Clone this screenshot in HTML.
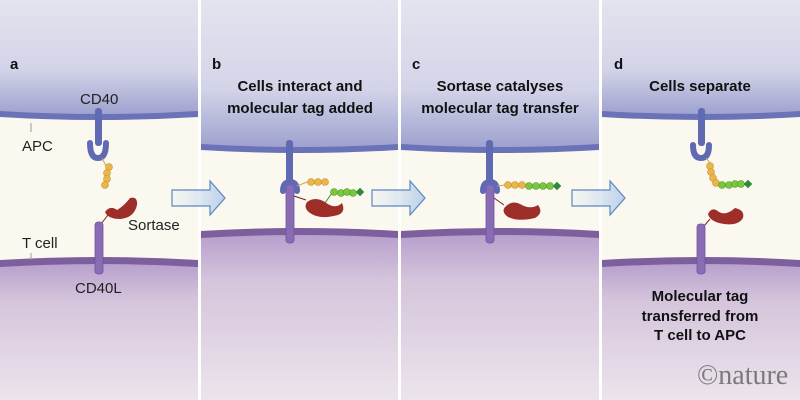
<!DOCTYPE html>
<html><head><meta charset="utf-8"><style>
html,body{margin:0;padding:0;background:#fff;}
svg{display:block;}
text{font-family:"Liberation Sans",sans-serif;}
text.ser{font-family:"Liberation Serif",serif;}
</style></head><body>
<svg width="800" height="400" viewBox="0 0 800 400" xmlns="http://www.w3.org/2000/svg">
<defs>
<linearGradient id="topA" x1="0" y1="0" x2="0" y2="1">
<stop offset="0" stop-color="#e4e4ef"/><stop offset="0.6" stop-color="#d3d4e8"/><stop offset="1" stop-color="#9ea1cf"/></linearGradient>
<linearGradient id="botA" x1="0" y1="0" x2="0" y2="1">
<stop offset="0" stop-color="#b49ccb"/><stop offset="0.3" stop-color="#d5c5dc"/><stop offset="1" stop-color="#ece4ec"/></linearGradient>
<linearGradient id="arr" x1="0" y1="0" x2="1" y2="0">
<stop offset="0" stop-color="#dbe6f2" stop-opacity="0.2"/><stop offset="1" stop-color="#b9d0ea"/></linearGradient>
</defs>
<rect width="800" height="400" fill="#fff"/>

<g>
<rect x="0" y="0" width="198" height="400" fill="#fbf9ef"/>
<path d="M0 0H198V112Q99 118 0 112Z" fill="url(#topA)"/>
<path d="M0 111Q99 117 198 111V117Q99 123 0 117Z" fill="#6a72b8"/>
<path d="M0 262Q99 256 198 262V400H0Z" fill="url(#botA)"/>
<path d="M0 260Q99 254 198 260V267Q99 261 0 267Z" fill="#7c5f9c"/>
<rect x="602" y="0" width="198" height="400" fill="#fbf9ef"/>
<path d="M602 0H800V112Q701 118 602 112Z" fill="url(#topA)"/>
<path d="M602 111Q701 117 800 111V117Q701 123 602 117Z" fill="#6a72b8"/>
<path d="M602 262Q701 256 800 262V400H602Z" fill="url(#botA)"/>
<path d="M602 260Q701 254 800 260V267Q701 261 602 267Z" fill="#7c5f9c"/>
</g>
<g>
<rect x="201" y="0" width="197" height="400" fill="#fbf9ef"/>
<path d="M201 0H398V145Q300 151 201 145Z" fill="url(#topA)"/>
<path d="M201 144Q300 150 398 144V150Q300 156 201 150Z" fill="#6a72b8"/>
<path d="M201 233Q300 227 398 233V400H201Z" fill="url(#botA)"/>
<path d="M201 231Q300 225 398 231V238Q300 232 201 238Z" fill="#7c5f9c"/>
<rect x="401" y="0" width="198" height="400" fill="#fbf9ef"/>
<path d="M401 0H599V145Q500 151 401 145Z" fill="url(#topA)"/>
<path d="M401 144Q500 150 599 144V150Q500 156 401 150Z" fill="#6a72b8"/>
<path d="M401 233Q500 227 599 233V400H401Z" fill="url(#botA)"/>
<path d="M401 231Q500 225 599 231V238Q500 232 401 238Z" fill="#7c5f9c"/>
</g>

<g fill="url(#arr)" stroke="#5a86c0" stroke-width="1.2">
<path d="M172 190H210V181L225 198L210 215V206H172Z"/>
<path d="M372 190H410V181L425 198L410 215V206H372Z"/>
<path d="M572 190H610V181L625 198L610 215V206H572Z"/>
</g>

<!-- Panel a -->
<rect x="95" y="108" width="7" height="38" rx="3" fill="#5f6ab3"/>
<path d="M90 143Q90 158 98 158Q106 158 106 143" fill="none" stroke="#5f6ab3" stroke-width="6" stroke-linecap="round"/>
<line x1="102" y1="158" x2="107" y2="168" stroke="#c9a64a" stroke-width="1"/>
<g fill="#eab64a" stroke="#c8902a" stroke-width="0.6"><circle cx="109" cy="167" r="3.5"/><circle cx="107" cy="173" r="3.5"/><circle cx="107" cy="179" r="3.5"/><circle cx="105" cy="185" r="3.5"/></g>
<path d="M105 212Q110 205 117 210Q124 206 130 198Q138 196 137 205Q134 218 120 219Q108 219 105 212Z" fill="#9e2e2a"/>
<line x1="108" y1="215" x2="101" y2="224" stroke="#7a2020" stroke-width="1"/>
<rect x="95" y="222" width="8" height="52" rx="3" fill="#8a6cb5" stroke="#6f52a0" stroke-width="0.8"/>
<line x1="31" y1="123" x2="31" y2="132" stroke="#999" stroke-width="1"/>
<line x1="31" y1="253" x2="31" y2="260" stroke="#999" stroke-width="1"/>
<g font-size="15" fill="#222">
<text x="80" y="104">CD40</text>
<text x="22" y="151">APC</text>
<text x="128" y="230">Sortase</text>
<text x="22" y="248">T cell</text>
<text x="75" y="293">CD40L</text>
</g>
<g font-weight="bold" font-size="15" fill="#111">
<text x="10" y="69">a</text>
<text x="212" y="69">b</text>
<text x="412" y="69">c</text>
<text x="614" y="69">d</text>
</g>
<g font-weight="bold" font-size="15" fill="#111" text-anchor="middle">
<text x="300" y="91">Cells interact and</text>
<text x="300" y="113">molecular tag added</text>
<text x="500" y="91">Sortase catalyses</text>
<text x="500" y="113">molecular tag transfer</text>
<text x="700" y="91">Cells separate</text>
<text x="700" y="301">Molecular tag</text>
<text x="700" y="321">transferred from</text>
<text x="700" y="340">T cell to APC</text>
</g>

<!-- b -->
<rect x="286" y="140" width="7" height="43" rx="3" fill="#5f6ab3"/>
<rect x="286" y="183" width="8" height="60" rx="3" fill="#8a6cb5" stroke="#6f52a0" stroke-width="0.8"/>
<path d="M283 191Q283 182 290 182Q297 182 297 191" fill="none" stroke="#5f6ab3" stroke-width="6" stroke-linecap="round"/>
<path d="M307 202Q315 196 325 202Q335 210 342 203Q346 212 338 215Q320 220 310 213Q303 208 307 202Z" fill="#9e2e2a"/>
<line x1="294" y1="196" x2="306" y2="200" stroke="#7a2020" stroke-width="1"/>
<line x1="297" y1="186" x2="307" y2="182" stroke="#c9a64a"/>
<g fill="#eab64a" stroke="#c8902a" stroke-width="0.6"><circle cx="311" cy="182" r="3.5"/><circle cx="318" cy="182" r="3.5"/><circle cx="325" cy="182" r="3.5"/></g>
<line x1="325" y1="203" x2="332" y2="193" stroke="#3f8a2f"/>
<g fill="#7cc63c" stroke="#4c9a2a" stroke-width="0.6"><circle cx="334" cy="192" r="3.5"/><circle cx="341" cy="193" r="3.5"/><circle cx="347" cy="192" r="3.5"/><circle cx="353" cy="193" r="3.5"/></g>
<rect x="357" y="189" width="6" height="6" fill="#2d8a3a" transform="rotate(45 360 192)"/>
<!-- c -->
<rect x="486" y="140" width="7" height="43" rx="3" fill="#5f6ab3"/>
<rect x="486" y="183" width="8" height="60" rx="3" fill="#8a6cb5" stroke="#6f52a0" stroke-width="0.8"/>
<path d="M483 191Q483 182 490 182Q497 182 497 191" fill="none" stroke="#5f6ab3" stroke-width="6" stroke-linecap="round"/>
<path d="M505 207Q512 200 520 204Q530 210 538 205Q544 213 535 218Q518 222 508 217Q501 212 505 207Z" fill="#9e2e2a"/>
<line x1="494" y1="198" x2="504" y2="205" stroke="#7a2020"/>
<line x1="497" y1="186" x2="505" y2="185" stroke="#c9a64a"/>
<g fill="#eab64a" stroke="#c8902a" stroke-width="0.6"><circle cx="508" cy="185" r="3.5"/><circle cx="515" cy="185" r="3.5"/><circle cx="522" cy="185" r="3.5"/></g>
<g fill="#7cc63c" stroke="#4c9a2a" stroke-width="0.6"><circle cx="529" cy="186" r="3.5"/><circle cx="536" cy="186" r="3.5"/><circle cx="543" cy="186" r="3.5"/><circle cx="550" cy="186" r="3.5"/></g>
<rect x="554" y="183" width="6" height="6" fill="#2d8a3a" transform="rotate(45 557 186)"/>
<!-- d -->
<rect x="698" y="108" width="7" height="38" rx="3" fill="#5f6ab3"/>
<path d="M693 145Q693 158 701 158Q709 158 709 145" fill="none" stroke="#5f6ab3" stroke-width="6" stroke-linecap="round"/>
<line x1="706" y1="158" x2="710" y2="163" stroke="#c9a64a"/>
<g fill="#eab64a" stroke="#c8902a" stroke-width="0.6"><circle cx="710" cy="166" r="3.5"/><circle cx="711" cy="172" r="3.5"/><circle cx="713" cy="178" r="3.5"/><circle cx="716" cy="183" r="3.5"/></g>
<g fill="#7cc63c" stroke="#4c9a2a" stroke-width="0.6"><circle cx="722" cy="185" r="3.5"/><circle cx="729" cy="185" r="3.5"/><circle cx="735" cy="184" r="3.5"/><circle cx="741" cy="184" r="3.5"/></g>
<rect x="745" y="181" width="6" height="6" fill="#2d8a3a" transform="rotate(45 748 184)"/>
<path d="M708 214Q712 206 719 212Q726 216 735 208Q745 210 743 218Q738 226 724 224Q710 222 708 214Z" fill="#9e2e2a"/>
<line x1="710" y1="219" x2="704" y2="226" stroke="#7a2020"/>
<rect x="697" y="224" width="8" height="50" rx="3" fill="#8a6cb5" stroke="#6f52a0" stroke-width="0.8"/>
<text class="ser" x="697" y="384" font-size="28" fill="#7a7a7a">©nature</text>
</svg>
</body></html>
